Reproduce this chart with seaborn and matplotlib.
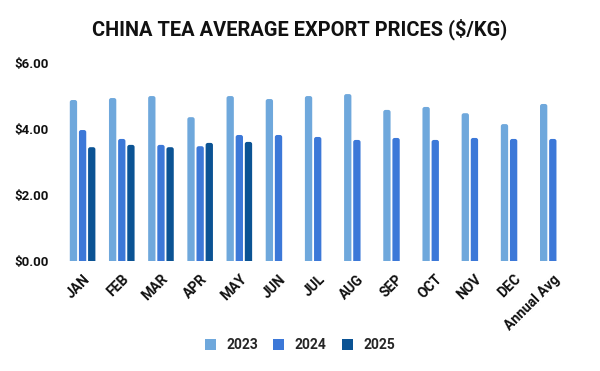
import numpy as np
import pandas as pd
import matplotlib
matplotlib.use("Agg")
import matplotlib.pyplot as plt
from matplotlib.patches import FancyBboxPatch
import seaborn as sns

months = ["JAN", "FEB", "MAR", "APR", "MAY", "JUN", "JUL", "AUG", "SEP", "OCT", "NOV", "DEC", "Annual Avg"]
prices_2023 = [4.88, 4.94, 5.00, 4.36, 5.00, 4.91, 5.00, 5.06, 4.58, 4.67, 4.48, 4.15, 4.76]
prices_2024 = [3.97, 3.70, 3.52, 3.48, 3.82, 3.82, 3.76, 3.67, 3.73, 3.67, 3.73, 3.70, 3.70]
prices_2025 = [3.45, 3.52, 3.45, 3.58, 3.61, np.nan, np.nan, np.nan, np.nan, np.nan, np.nan, np.nan, np.nan]
years = ["2023", "2024", "2025"]
colors = ["#6FA8DC", "#3C78D8", "#0B5394"]

df = pd.concat([
    pd.DataFrame({"month": months, "year": y, "price": v})
    for y, v in zip(years, [prices_2023, prices_2024, prices_2025])
], ignore_index=True)

sns.set_theme(style="white")
plt.rcParams["font.family"] = ["Roboto", "DejaVu Sans"]

fig = plt.figure(figsize=(6.0, 3.71), dpi=100)
ax = fig.add_axes([0.105, 0.2965, 0.849, 0.5335])

sns.barplot(data=df, x="month", y="price", hue="year", order=months,
            hue_order=years, palette=colors, width=0.7, gap=0.2, saturation=1,
            errorbar=None, ax=ax, legend=True)

# rounded bar tops
px_x = 39.2
px_y = 33.0
for p in list(ax.patches):
    h = p.get_height()
    if not np.isfinite(h) or h <= 0:
        continue
    x0, w = p.get_x(), p.get_width()
    r = 2.2 / px_x
    fb = FancyBboxPatch((x0 + r, -0.3 + r * (px_x / px_y)), w - 2 * r, h + 0.3 - 2 * r * (px_x / px_y),
                        boxstyle=f"round,pad={r},rounding_size={r}",
                        mutation_aspect=px_x / px_y,
                        facecolor=p.get_facecolor(), edgecolor="none", linewidth=0)
    ax.add_patch(fb)
    p.set_visible(False)

ax.set_ylim(0, 6)
ax.set_xlim(-0.5, len(months) - 0.5)
ax.set_yticks([0, 2, 4, 6])
ax.set_yticklabels([f"${v:.2f}" for v in [0, 2, 4, 6]], fontsize=9.5, fontweight="bold", color="#111111")
ax.tick_params(axis="y", length=0, pad=10)
ax.tick_params(axis="x", length=0, pad=8)
ax.set_xticks(range(len(months)))
ax.set_xticklabels(months, rotation=45, ha="right", rotation_mode="anchor",
                   fontsize=10, fontweight="bold", color="#111111")
ax.set_xlabel("")
ax.set_ylabel("")
for s in ax.spines.values():
    s.set_visible(False)
ax.grid(False)

ax.legend_.remove()
handles = [plt.Rectangle((0, 0), 1, 1, facecolor=c, edgecolor="none") for c in colors]
leg = fig.legend(handles, years, loc="center", bbox_to_anchor=(0.5, 0.07), ncol=3,
                 frameon=False, handlelength=0.8, handleheight=0.8, handletextpad=0.75,
                 columnspacing=1.1, prop={"family": "Roboto", "weight": "bold", "size": 10})

fig.text(0.5, 0.922, "CHINA TEA AVERAGE EXPORT PRICES ($/KG)", ha="center", va="center",
         fontsize=14.4, fontweight="bold", color="#111111")

fig.savefig("out.png", dpi=100, facecolor="white")
